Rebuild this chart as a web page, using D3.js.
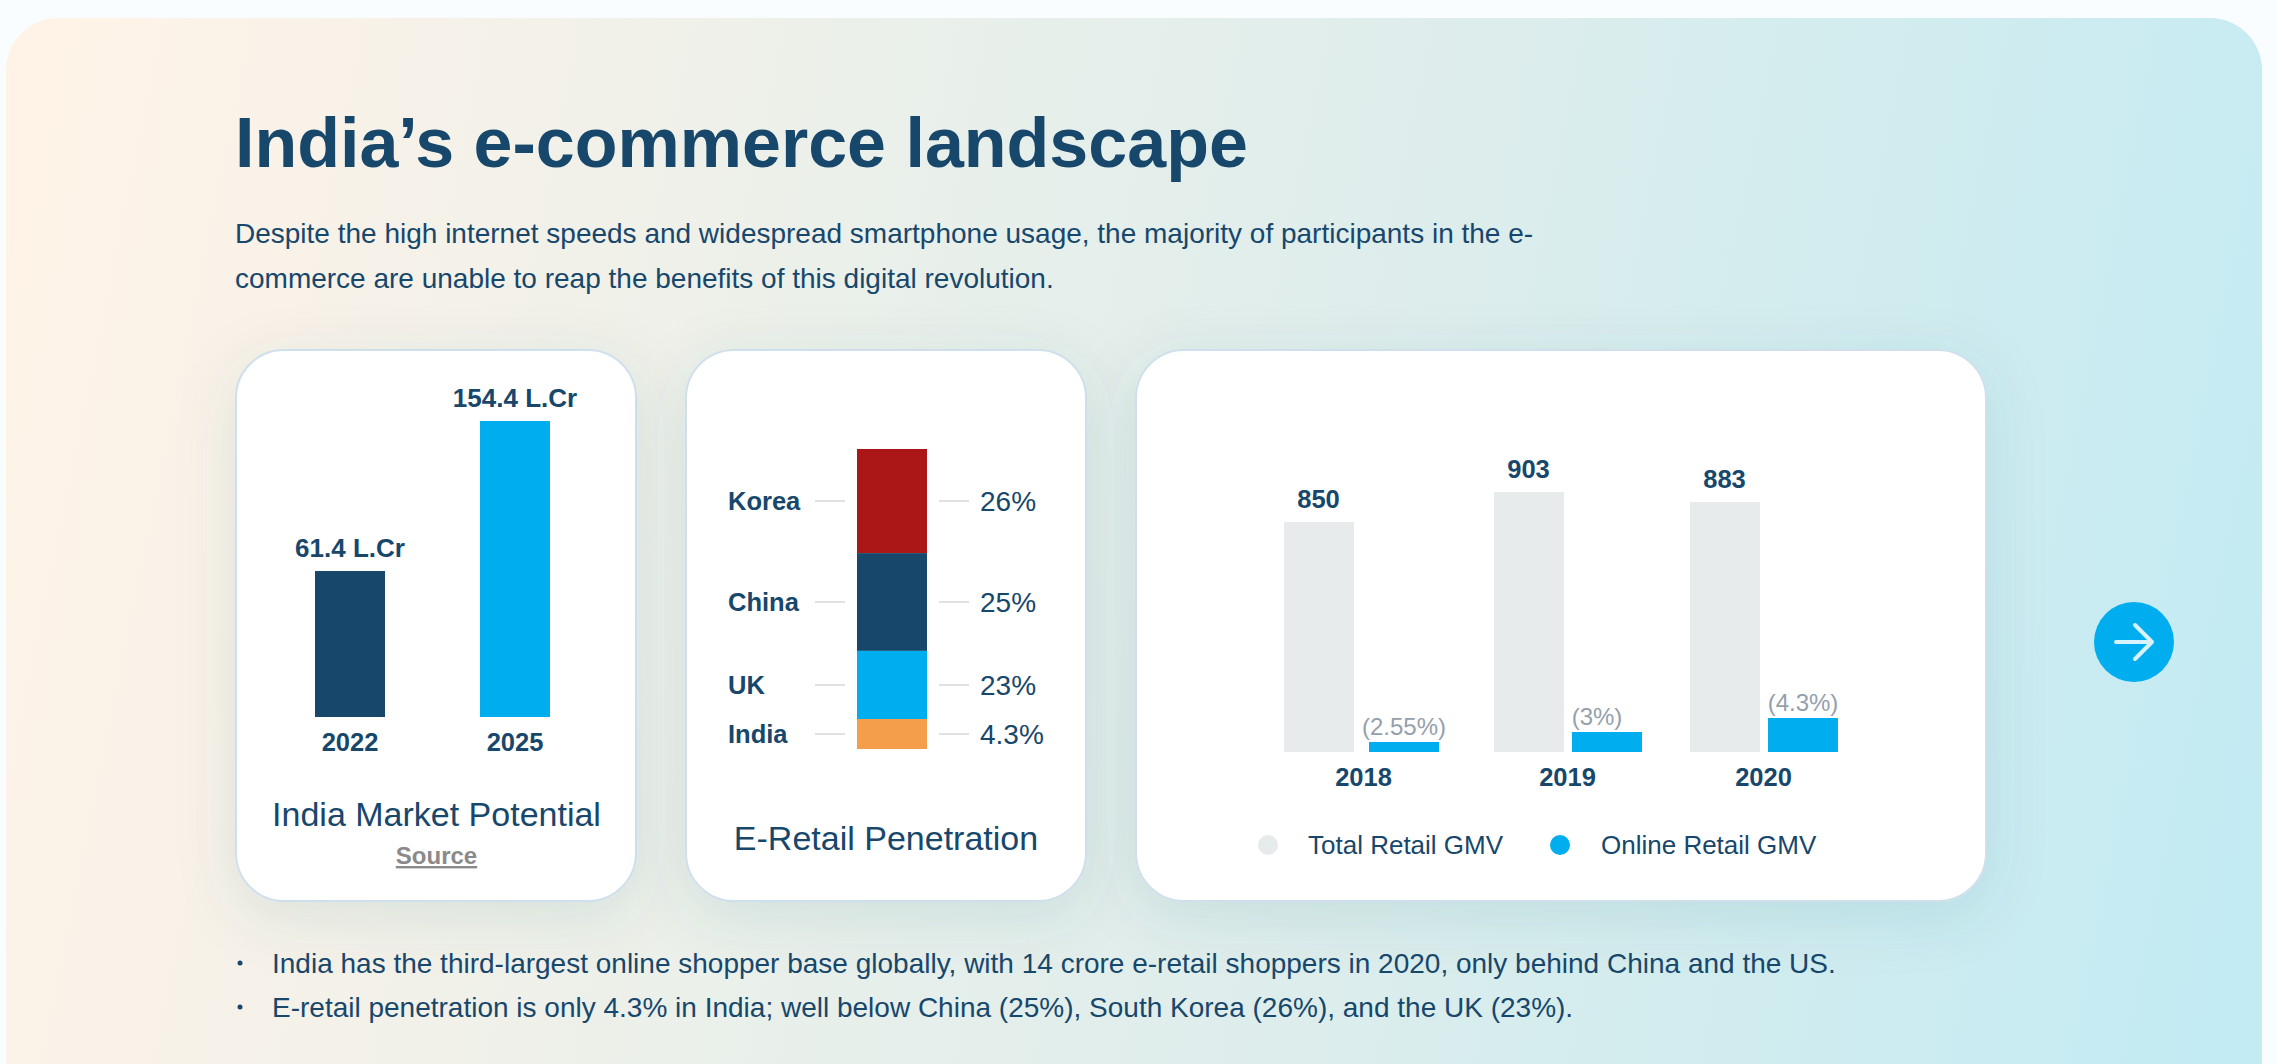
<!DOCTYPE html>
<html><head><meta charset="utf-8">
<style>
html,body{margin:0;padding:0;background:#f9fdff;overflow:hidden}
svg{display:block}
text{font-family:"Liberation Sans",Helvetica,Arial,sans-serif;fill:#17476b}
.b{font-weight:700}
</style>
<script src="https://cdn.jsdelivr.net/npm/d3@7/dist/d3.min.js"></script>
</head><body><svg id="c" width="2277" height="1064"></svg>
<script>
const titleText = "India’s e-commerce landscape";
const subtitleLines = ["Despite the high internet speeds and widespread smartphone usage, the majority of participants in the e-","commerce are unable to reap the benefits of this digital revolution."];
const bulletLines = ["India has the third-largest online shopper base globally, with 14 crore e-retail shoppers in 2020, only behind China and the US.","E-retail penetration is only 4.3% in India; well below China (25%), South Korea (26%), and the UK (23%)."];

const marketYears = ["2022","2025"];
const marketValues = [61.4,154.4];
const marketLabels = ["61.4 L.Cr","154.4 L.Cr"];

const countries = ["Korea","China","UK","India"];
const penetrationLabels = ["26%","25%","23%","4.3%"];
const drawnShares = [34.7,32.6,22.7,10];
const stackColors = ["#ab1717","#17476b","#00aeef","#f49d4a"];

const gmvYears = ["2018","2019","2020"];
const totalGmv = [850,903,883];
const onlineShare = [2.55,3,4.3];
const onlineLabels = ["(2.55%)","(3%)","(4.3%)"];
const legendItems = ["Total Retail GMV","Online Retail GMV"];

const navy="#17476b", blue="#00aeef", grey="#e7ebec";
const svg=d3.select("#c"), defs=svg.append("defs");
const g=defs.append("linearGradient").attr("id","bg").attr("gradientUnits","userSpaceOnUse")
  .attr("x1",0).attr("y1",300).attr("x2",2277).attr("y2",760);
[[0,"#fff3e7"],[.35,"#ebf0ea"],[.62,"#dcedec"],[1,"#c3ebf3"]].forEach(s=>g.append("stop").attr("offset",s[0]).attr("stop-color",s[1]));
const f=defs.append("filter").attr("id","sh").attr("x","-30%").attr("y","-30%").attr("width","160%").attr("height","160%");
f.append("feDropShadow").attr("dx",0).attr("dy",14).attr("stdDeviation",30).attr("flood-color","#1f5f6e").attr("flood-opacity",.11);

svg.append("rect").attr("x",6).attr("y",18).attr("width",2256).attr("height",1120).attr("rx",52).attr("fill","url(#bg)");

const text=(sel,x,y,s,size,o={})=>sel.append("text").attr("x",x).attr("y",y).attr("font-size",size)
  .attr("text-anchor",o.anchor||"start").attr("class",o.bold?"b":null).style("fill",o.fill||navy).text(s);

text(svg,235,167,titleText,70,{bold:true});
subtitleLines.forEach((l,i)=>text(svg,235,243+i*45,l,28));
bulletLines.forEach((l,i)=>{
  svg.append("circle").attr("cx",240).attr("cy",963+i*44).attr("r",2.5).attr("fill",navy);
  text(svg,272,973+i*44,l,28);
});

[[236,400],[686,400],[1136,850]].forEach(c=>{
  svg.append("rect").attr("x",c[0]).attr("y",350).attr("width",c[1]).attr("height",551).attr("rx",48)
    .attr("fill","#fff").attr("stroke","#cfe0ec").attr("stroke-width",2).attr("filter","url(#sh)");
});

function xAxis(scale,y){
  const a=svg.append("g").attr("transform",`translate(0,${y})`).call(d3.axisBottom(scale).tickSize(0).tickPadding(0));
  a.select(".domain").remove();
  a.selectAll("text").attr("dy",0).attr("y",0).attr("class","b").style("font-size","25.5px").style("fill",navy).style("font-family",'"Liberation Sans"');
}

// Chart 1
const x1=d3.scaleBand().domain(marketYears).range([267.5,597.5]).paddingInner(.5757).paddingOuter(.2879);
const y1=d3.scaleLinear().domain([-29.1,154.4]).range([717,421]);
svg.append("g").selectAll("rect").data(marketValues).join("rect")
  .attr("x",(d,i)=>x1(marketYears[i])).attr("width",x1.bandwidth())
  .attr("y",d=>y1(d)).attr("height",d=>y1.range()[0]-y1(d)).attr("fill",(d,i)=>i?blue:navy);
marketValues.forEach((d,i)=>text(svg,x1(marketYears[i])+x1.bandwidth()/2,y1(d)-14,marketLabels[i],26,{anchor:"middle",bold:true}));
xAxis(x1,751);
text(svg,436.5,826,"India Market Potential",34,{anchor:"middle"});
text(svg,436.5,864,"Source",24,{anchor:"middle",bold:true,fill:"#8a8a8a"}).style("text-decoration","underline");

// Chart 2
const cum=d3.cumsum(drawnShares);
const y2=d3.scaleLinear().domain([0,100]).range([449,749]);
const x2=d3.scaleBand().domain(["stack"]).range([857,927]);
const labelY=d3.scaleOrdinal(countries,[501,602,685,734]);
svg.append("g").selectAll("rect").data(drawnShares).join("rect")
  .attr("x",x2("stack")).attr("width",x2.bandwidth())
  .attr("y",(d,i)=>y2(cum[i]-d)).attr("height",d=>y2(d)-y2(0)).attr("fill",(d,i)=>stackColors[i]);
countries.forEach((c,i)=>{
  const y=labelY(c);
  text(svg,728,y+9,c,25.5,{bold:true});
  text(svg,980,y+10,penetrationLabels[i],28);
  [[815,845],[939,969]].forEach(r=>svg.append("line").attr("x1",r[0]).attr("x2",r[1]).attr("y1",y).attr("y2",y).attr("stroke","#e1e1e1").attr("stroke-width",2));
});
text(svg,886,850,"E-Retail Penetration",34,{anchor:"middle"});

// Chart 3
const xTotal=d3.scaleOrdinal(gmvYears,[1284,1494,1690]);
const xOnline=d3.scaleOrdinal(gmvYears,[1369,1572,1768]);
const xTick=d3.scaleOrdinal(gmvYears,[1363,1567,1763]);
const w3=70;
const y3=d3.scaleLinear().domain([444,850,883,903]).range([752,522,502,492]);
const y3b=d3.scaleLinear().domain([2.1,2.55,3,4.3]).range([752,742,732,718]);
svg.append("g").selectAll("rect").data(totalGmv).join("rect")
  .attr("x",(d,i)=>xTotal(gmvYears[i])).attr("width",w3).attr("y",d=>y3(d)).attr("height",d=>752-y3(d)).attr("fill",grey);
svg.append("g").selectAll("rect").data(onlineShare).join("rect")
  .attr("x",(d,i)=>xOnline(gmvYears[i])).attr("width",w3).attr("y",d=>y3b(d)).attr("height",d=>752-y3b(d)).attr("fill",blue);
totalGmv.forEach((d,i)=>text(svg,xTotal(gmvYears[i])+34.5,y3(d)-14,d,25.5,{anchor:"middle",bold:true}));
onlineShare.forEach((d,i)=>text(svg,xOnline(gmvYears[i])+(i==1?25:35),y3b(d)-7,onlineLabels[i],24,{anchor:"middle",fill:"#94a0ab"}));
xAxis(xTick,786);
[[1268,1308],[1560,1601]].forEach((p,i)=>{
  svg.append("circle").attr("cx",p[0]).attr("cy",845).attr("r",10).attr("fill",i?blue:grey);
  text(svg,p[1],854,legendItems[i],26);
});

// next button
svg.append("circle").attr("cx",2134).attr("cy",642).attr("r",40).attr("fill",blue);
svg.append("path").attr("d","M2116 642H2152M2135 625L2152 642L2135 659").attr("fill","none").attr("stroke","#d9f3fc").attr("stroke-width",4).attr("stroke-linecap","round").attr("stroke-linejoin","round");
</script></body></html>
